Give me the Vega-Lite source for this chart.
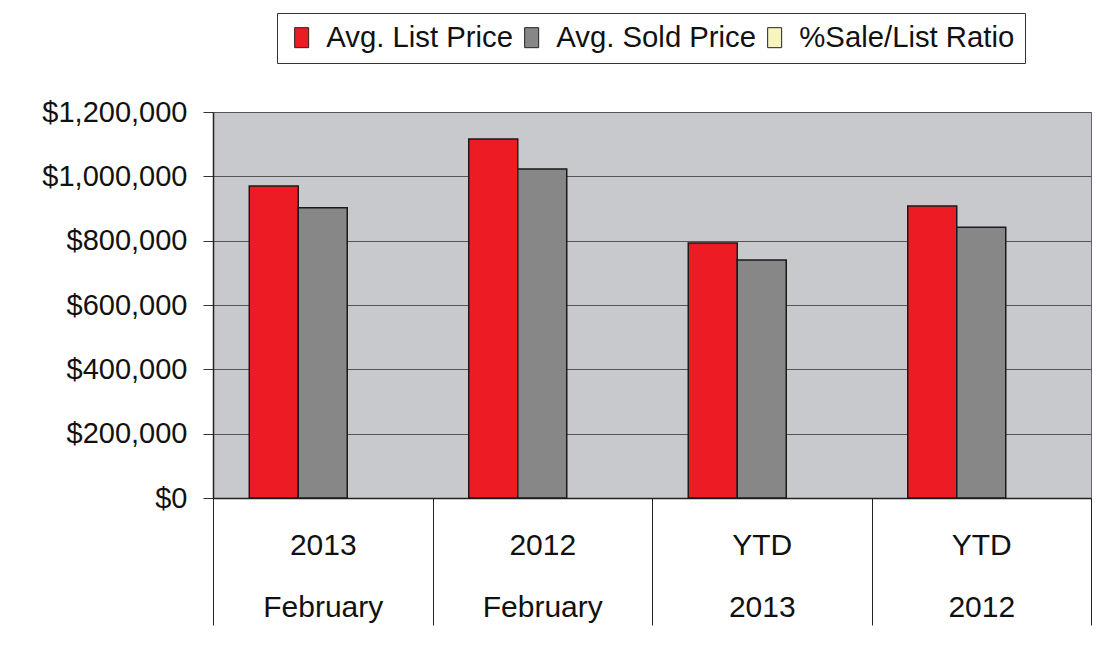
{
  "$schema": "https://vega.github.io/schema/vega-lite/v6.json",
  "width": 878,
  "height": 386,
  "autosize": {"type": "none"},
  "padding": {"left": 213, "top": 112, "right": 7, "bottom": 151},
  "background": "white",
  "config": {
    "font": "Liberation Sans",
    "view": {"fill": "#C8C9CD", "stroke": "#666666", "strokeWidth": 1}
  },
  "data": {
    "values": [
      {"period": "2013|February", "series": "Avg. List Price", "price": 970000},
      {"period": "2013|February", "series": "Avg. Sold Price", "price": 902000},
      {"period": "2012|February", "series": "Avg. List Price", "price": 1116000},
      {"period": "2012|February", "series": "Avg. Sold Price", "price": 1023000},
      {"period": "YTD|2013", "series": "Avg. List Price", "price": 793000},
      {"period": "YTD|2013", "series": "Avg. Sold Price", "price": 740000},
      {"period": "YTD|2012", "series": "Avg. List Price", "price": 908000},
      {"period": "YTD|2012", "series": "Avg. Sold Price", "price": 842000}
    ]
  },
  "mark": {"type": "bar", "stroke": "#1a1a1a", "strokeWidth": 1.5},
  "encoding": {
    "x": {
      "field": "period",
      "type": "nominal",
      "sort": null,
      "scale": {"paddingInner": 0, "paddingOuter": 0},
      "axis": {
        "title": null,
        "labelExpr": "split(datum.label, '|')",
        "labelAngle": 0,
        "labelFontSize": 30,
        "labelColor": "#111111",
        "labelLineHeight": 62,
        "labelPadding": -80,
        "labelBaseline": "middle",
        "tickBand": "extent",
        "ticks": true,
        "tickSize": 127,
        "tickColor": "#222222",
        "tickWidth": 1,
        "domain": true,
        "domainColor": "#222222",
        "domainWidth": 1.5
      }
    },
    "xOffset": {
      "field": "series",
      "type": "nominal",
      "scale": {"domain": ["Avg. List Price", "Avg. Sold Price", "%Sale/List Ratio"], "paddingInner": 0, "paddingOuter": 0.74}
    },
    "y": {
      "field": "price",
      "type": "quantitative",
      "scale": {"domain": [0, 1200000], "nice": false},
      "axis": {
        "title": null,
        "values": [0, 200000, 400000, 600000, 800000, 1000000, 1200000],
        "format": "$,.0f",
        "labelFontSize": 29,
        "labelColor": "#111111",
        "labelPadding": 16,
        "tickSize": 10,
        "tickColor": "#333333",
        "domainColor": "#222222",
        "domainWidth": 1.5,
        "grid": true,
        "gridColor": "#555555",
        "gridWidth": 1
      }
    },
    "color": {
      "field": "series",
      "type": "nominal",
      "scale": {
        "domain": ["Avg. List Price", "Avg. Sold Price", "%Sale/List Ratio"],
        "range": ["#ED1C24", "#878787", "#F7F4C0"]
      },
      "legend": {
        "title": null,
        "orient": "none",
        "legendX": 64,
        "legendY": -99,
        "direction": "horizontal",
        "symbolType": "M-0.7,-1H0.7V1H-0.7Z",
        "symbolSize": 400,
        "symbolStrokeColor": "#222222",
        "symbolStrokeWidth": 1,
        "symbolOpacity": 1,
        "labelFontSize": 29.3,
        "labelColor": "#111111",
        "labelOffset": 10,
        "columnPadding": 3,
        "padding": 10,
        "strokeColor": "#333333",
        "fillColor": "white",
        "labelLimit": 400
      }
    }
  }
}
